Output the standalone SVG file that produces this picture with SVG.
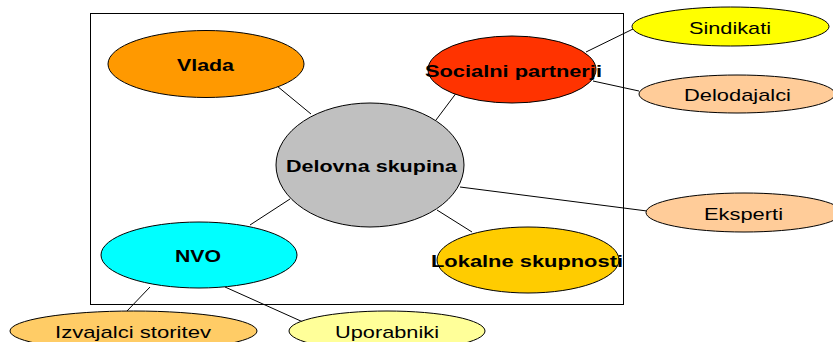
<svg xmlns="http://www.w3.org/2000/svg" width="833" height="342" viewBox="0 0 833 342">
<style>
.n{stroke:#000;stroke-width:1}
.b{font-family:"Liberation Sans",Arial,sans-serif;font-weight:bold;font-size:17px;fill:#000}
.r{font-family:"Liberation Sans",Arial,sans-serif;font-size:17px;fill:#000}
.c{stroke:#000;stroke-width:1;fill:none}
</style>
<rect width="833" height="342" fill="#fff"/>
<rect x="90.5" y="13.5" width="533" height="291" fill="none" stroke="#000" stroke-width="1"/>
<g id="connectors">
<line class="c" x1="277" y1="86" x2="311" y2="114"/>
<line class="c" x1="457" y1="92" x2="436" y2="120"/>
<line class="c" x1="586" y1="52" x2="633" y2="29"/>
<line class="c" x1="593" y1="81" x2="639" y2="91"/>
<line class="c" x1="460" y1="187" x2="647" y2="211"/>
<line class="c" x1="437" y1="210" x2="472" y2="232"/>
<line class="c" x1="290" y1="199" x2="250" y2="225"/>
<line class="c" x1="150" y1="287" x2="127" y2="311"/>
<line class="c" x1="225" y1="287" x2="303" y2="322"/>
</g>
<g id="vlada"><ellipse class="n" cx="206" cy="64" rx="98" ry="33.5" fill="#FF9900"/><text class="b" x="177" y="71" textLength="57" lengthAdjust="spacingAndGlyphs">Vlada</text></g>
<g id="delovna"><ellipse class="n" cx="370" cy="165" rx="94" ry="62" fill="#C0C0C0"/><text class="b" x="286" y="172" textLength="171" lengthAdjust="spacingAndGlyphs">Delovna skupina</text></g>
<g id="socialni"><ellipse class="n" cx="512" cy="69.5" rx="84" ry="33.5" fill="#FF3300"/><text class="b" x="425" y="77" textLength="177" lengthAdjust="spacingAndGlyphs">Socialni partnerji</text></g>
<g id="sindikati"><ellipse class="n" cx="730.5" cy="26.5" rx="98.5" ry="19.5" fill="#FFFF00"/><text class="r" x="689" y="34" textLength="82" lengthAdjust="spacingAndGlyphs">Sindikati</text></g>
<g id="delodajalci"><ellipse class="n" cx="737" cy="94" rx="98" ry="19" fill="#FFCC99"/><text class="r" x="684" y="101" textLength="107" lengthAdjust="spacingAndGlyphs">Delodajalci</text></g>
<g id="eksperti"><ellipse class="n" cx="744" cy="212.5" rx="98" ry="19.5" fill="#FFCC99"/><text class="r" x="704" y="220" textLength="79" lengthAdjust="spacingAndGlyphs">Eksperti</text></g>
<g id="lokalne"><ellipse class="n" cx="528" cy="260" rx="91" ry="33" fill="#FFCC00"/><text class="b" x="431" y="267" textLength="192" lengthAdjust="spacingAndGlyphs">Lokalne skupnosti</text></g>
<g id="nvo"><ellipse class="n" cx="199" cy="255" rx="98" ry="33" fill="#00FFFF"/><text class="b" x="175" y="262" textLength="46" lengthAdjust="spacingAndGlyphs">NVO</text></g>
<g id="izvajalci"><ellipse class="n" cx="133.5" cy="331" rx="123.5" ry="20" fill="#FFCC66"/><text class="r" x="55" y="338" textLength="156" lengthAdjust="spacingAndGlyphs">Izvajalci storitev</text></g>
<g id="uporabniki"><ellipse class="n" cx="387" cy="331" rx="98" ry="20" fill="#FFFF99"/><text class="r" x="335" y="338" textLength="104" lengthAdjust="spacingAndGlyphs">Uporabniki</text></g>
</svg>
